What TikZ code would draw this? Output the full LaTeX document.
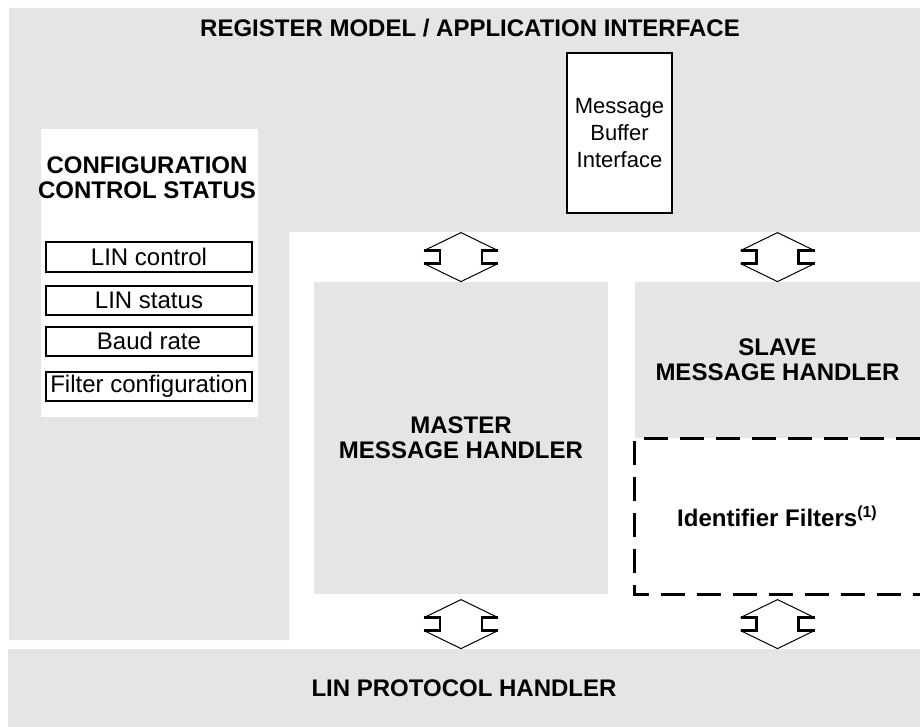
\documentclass[tikz,border=0pt]{standalone}
\usepackage{fontspec}
\setmainfont{Liberation Sans}
\usetikzlibrary{calc}
\definecolor{panelgray}{gray}{0.9}
\newcommand{\diagfont}{\fontsize{12}{12.5}\selectfont}
\tikzset{heading/.style = {inner sep = 0pt, align = center, font = \diagfont\bfseries}}
\tikzset{graybox/.style = {fill = panelgray, inner sep = 0pt, align = center, font = \diagfont\bfseries}}
\tikzset{regbox/.style = {draw, fill = white, line width = 1pt, inner sep = 0pt, align = center, font = \diagfont, minimum width = 103pt, minimum height = 14.5pt}}
\tikzset{filteredge/.style = {line width = 1.5pt, dash pattern = on 12pt off 6pt}}
\tikzset{notch/.style = {line width = 1.2pt}}
\tikzset{pics/busarrow/.style = {code = {
	\draw[line width = 0.5pt] (-37,-31) -- (0,-49) -- (37,-31);
	\draw[line width = 0.5pt] (-37,-18) -- (0,0) -- (37,-18);
	\draw[notch] (-37,-31) -- (-21,-31) -- (-21,-18) -- (-37,-18);
	\draw[notch] (37,-31) -- (21,-31) -- (21,-18) -- (37,-18);
}}}

\begin{document}
\begin{tikzpicture}[x = 0.5pt, y = -0.5pt]
	\useasboundingbox (0,0) rectangle (920,727);

	% register model / application interface
	\fill[panelgray] (9,8) -- (920,8) -- (920,232) -- (289,232) -- (289,640) -- (9,640) -- cycle;
	\node[heading] (regmodel) at (470,28) {REGISTER MODEL / APPLICATION INTERFACE};

	% configuration, control and status registers
	\node[fill = white, inner sep = 0pt, minimum width = 108.5pt, minimum height = 144pt] (config) at (149.5,273) {};
	\node[heading] (configtitle) at (147,178) {CONFIGURATION\\CONTROL STATUS};
	\node[regbox] (linctl) at (149,257) {LIN control};
	\node[regbox] (linstat) at (149,300) {LIN status};
	\node[regbox] (baud) at (149,341) {Baud rate};
	\node[regbox] (filtcfg) at (149,386) {Filter configuration};

	\node[regbox, font = \fontsize{11}{13.5}\selectfont, minimum width = 52.5pt, minimum height = 80pt] (msgbuf) at (619.5,133) {Message\\Buffer\\Interface};

	% message handlers
	\node[graybox, minimum width = 147pt, minimum height = 156pt] (master) at (461,438) {MASTER\\MESSAGE HANDLER};
	\node[graybox, minimum width = 142.5pt, minimum height = 78pt] (slave) at (777.5,360) {SLAVE\\MESSAGE HANDLER};
	\node[heading] (filters) at (777.5,516) {Identifier Filters\textsuperscript{(1)}};
	\draw[filteredge] (slave.south east) -- (slave.south west) -- (slave.south west |- master.south) -- (slave.south east |- master.south);

	\node[graybox, minimum width = 456pt, minimum height = 39pt] (protocol) at (464,688) {LIN PROTOCOL HANDLER};

	% links
	\pic at (master.north) {busarrow};
	\pic at (slave.north) {busarrow};
	\pic at (protocol.north -| master.south) {busarrow};
	\pic at (protocol.north -| slave.south) {busarrow};
\end{tikzpicture}
\end{document}
